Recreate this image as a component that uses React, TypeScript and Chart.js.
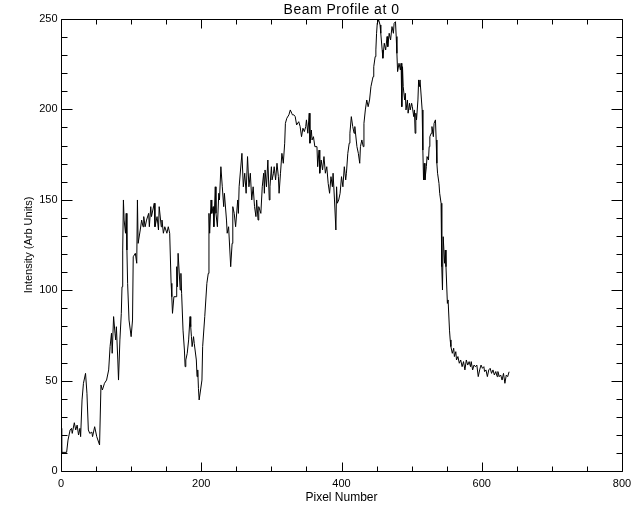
import { useEffect, useRef } from "react";
import { Chart, registerables } from "chart.js";

Chart.register(...registerables);

const pixelNumber = [
  0, 1, 8, 10, 13, 15, 16, 19, 21, 23, 25, 27, 28, 30, 32, 35, 37, 39, 41, 44, 45, 48, 51, 55, 57, 59, 62, 65, 68, 70,
  72, 73, 75, 77, 78, 79, 81, 82, 84, 86, 87, 88, 89, 90, 92, 93, 94, 95, 97, 100, 102, 103, 106, 108, 109, 110, 113, 115, 117, 118,
  120, 122, 125, 126, 128, 129, 133, 134, 137, 139, 140, 143, 144, 146, 148, 151, 153, 155, 157, 158, 159, 161, 164, 165, 166, 167, 170, 171, 172, 174,
  176, 177, 178, 180, 182, 184, 185, 186, 187, 189, 190, 193, 194, 195, 196, 197, 199, 201, 202, 205, 208, 210, 211, 212, 214, 215, 217, 218, 220, 221,
  223, 225, 226, 228, 230, 232, 233, 236, 237, 239, 242, 244, 245, 247, 249, 252, 253, 254,
  258, 260, 262, 264, 266, 268, 270, 272, 274, 276, 278, 279, 281, 282, 285, 287, 289, 290, 291, 293, 295, 297, 298, 300, 301, 303, 304, 306, 308, 310,
  311, 313, 315, 317, 319, 320, 322, 325, 327, 329, 330, 332, 334, 336, 339, 341, 343, 345, 347, 349, 350, 352, 354, 355, 357, 358, 360, 362, 365, 366,
  368, 369, 371, 373, 375, 377, 379, 381, 383, 385, 387, 388, 390, 392, 393, 394, 396, 398, 400, 402, 404, 406, 407, 409, 411, 412, 414, 416, 418, 419,
  422, 424, 426, 427, 429, 431, 432, 434, 436, 438, 440, 442, 444, 445, 446, 448, 449, 450, 451, 453, 455, 456, 458, 459, 461, 463, 465, 466, 468, 470,
  472, 474, 475, 477, 478, 479, 480, 482, 484,
  485, 486, 487, 488, 490, 491, 492, 494, 495, 497, 498, 500, 501, 503, 504, 505, 506, 507, 509, 510, 511, 512, 514, 515, 516, 517, 518, 519, 521, 522,
  524, 525, 526, 528, 529, 531, 532, 534, 535, 536, 537, 539, 540, 542, 543, 544, 545, 547, 548, 549, 551, 552, 554, 555, 556, 558, 560, 561, 563, 564,
  566, 568, 570, 572, 574, 576, 578, 580, 582, 584, 585, 587, 589, 591, 593, 595, 597, 599, 601, 603, 604, 606, 608, 610, 612, 614, 616, 618, 620, 622,
  623, 625, 627, 629, 631, 633, 635, 637, 639,
];

const intensity = [
  23.6, 10.3, 10.3, 17.1, 22.7, 23.6, 20.8, 26.7, 22.7, 25.4, 19.9, 23.6, 19.0, 39.3, 48.5, 54.0, 43.0, 22.7, 20.8, 21.5, 19.0, 24.5, 19.0, 14.4, 47.6, 44.8, 48.5, 50.3, 55.9, 68.8,
  76.2, 65.1, 85.4, 76.2, 72.5, 79.8, 61.4, 50.3, 72.5, 87.2, 101.9, 122.2, 149.9, 138.8, 131.5, 142.5, 122.2, 103.8, 83.5, 74.3, 83.5, 118.5, 120.4, 114.9, 149.9, 125.9, 133.3, 138.8, 135.1, 140.7,
  135.1, 138.8, 142.5, 135.1, 146.2, 140.7, 148.1, 135.1, 140.7, 133.3, 146.2, 135.1, 138.8, 131.5, 135.1, 131.5, 135.1, 131.5, 103.8, 96.4, 87.2, 96.4, 96.4, 113.0, 101.9, 120.4, 100.1, 109.3, 98.3, 77.9,
  66.9, 57.7, 61.4, 65.1, 72.5, 85.4, 79.8, 74.3, 68.8, 74.3, 70.6, 61.4, 52.2, 55.9, 45.7, 39.3, 44.8, 50.3, 68.8, 85.4, 103.8, 109.3, 142.5, 131.5, 149.9, 142.5, 146.2, 135.1, 157.2, 142.5,
  135.1, 153.6, 149.9, 168.3, 157.2, 146.2, 153.6, 138.8, 131.5, 135.1, 113.0, 125.9, 146.2, 142.5, 135.1, 149.9, 142.5, 157.2,
  175.7, 157.2, 164.7, 153.6, 173.9, 157.2, 164.7, 149.9, 157.2, 146.2, 140.7, 149.9, 138.8, 146.2, 142.5, 157.2, 164.7, 153.6, 166.5, 157.2, 172.0, 149.9, 157.2, 168.3, 161.0, 164.7, 168.3, 161.0, 170.2, 162.8,
  153.6, 164.7, 175.7, 170.2, 181.3, 192.3, 195.1, 197.0, 199.7, 197.9, 197.0, 197.0, 196.0, 191.4, 193.2, 190.5, 184.9, 189.6, 187.7, 190.5, 194.2, 186.8, 197.9, 181.3, 188.6, 183.1, 184.9, 179.4, 179.4, 168.3,
  177.5, 164.7, 172.0, 166.5, 173.9, 164.7, 168.3, 159.1, 153.6, 162.8, 157.2, 164.7, 149.9, 133.3, 157.2, 148.1, 149.9, 153.6, 162.8, 157.2, 168.3, 161.0, 164.7, 175.7, 181.3, 186.8, 196.0, 190.5, 186.8, 190.5,
  179.4, 175.7, 170.2, 179.4, 183.1, 179.4, 192.3, 199.7, 205.2, 201.5, 205.2, 212.6, 216.3, 218.1, 223.6, 229.2, 232.9, 242.1, 247.6, 249.5, 246.7, 242.1, 232.9, 228.3, 236.6, 232.9, 240.3, 234.7, 242.1, 238.4,
  245.8, 242.1, 247.6, 248.5, 240.3, 231.0, 220.9, 225.5, 221.8,
  225.5, 201.5, 223.6, 212.6, 205.2, 208.9, 199.7, 205.2, 197.9, 203.4, 199.7, 203.4, 201.5, 196.0, 199.7, 186.8, 197.9, 194.2, 205.2, 216.3, 212.6, 216.3, 205.2, 199.7, 177.5, 161.0, 170.2, 161.0, 168.3, 173.9,
  172.0, 179.4, 184.9, 186.8, 190.5, 184.9, 192.3, 194.2, 183.1, 170.2, 164.7, 159.1, 153.6, 148.1, 113.0, 100.1, 129.6, 114.9, 122.2, 113.0, 92.7, 94.6, 77.9, 72.5, 68.8, 65.1, 67.9, 63.3, 66.0, 61.4,
  63.3, 59.6, 61.4, 57.7, 60.5, 55.9, 61.4, 58.6, 60.5, 57.7, 60.5, 55.9, 58.6, 57.7, 58.6, 52.2, 55.9, 58.6, 56.8, 57.7, 55.0, 55.9, 52.2, 55.9, 56.8, 54.0, 55.9, 53.1, 55.0, 52.2,
  55.0, 52.2, 53.1, 50.3, 54.0, 48.5, 53.1, 52.2, 54.9,
];

const xMajorTicks = [0, 200, 400, 600, 800];
const xTickLabels = ["0", "200", "400", "600", "800"];
const yMajorTicks = [0, 50, 100, 150, 200, 250];
const yTickLabels = ["0", "50", "100", "150", "200", "250"];
const xMinorStep = 50;
const yMinorStep = 10;
const chartTitle = "Beam Profile at 0";
const xAxisTitle = "Pixel Number";
const yAxisTitle = "Intensity (Arb Units)";

const FONT = '"Liberation Sans", Arial, sans-serif';

const idlAxesPlugin = {
  id: "idlAxes",
  afterDatasetsDraw(chart: any) {
    const { ctx, chartArea: a, scales } = chart;
    const xs = scales.x;
    const ys = scales.y;
    const L = Math.round(a.left) + 0.5;
    const R = Math.round(a.right) + 0.5;
    const T = Math.round(a.top) + 0.5;
    const B = Math.round(a.bottom) + 0.5;
    ctx.save();
    ctx.strokeStyle = "#000";
    ctx.lineWidth = 1;
    ctx.beginPath();
    ctx.rect(L, T, R - L, B - T);
    // x ticks
    const xMin = xs.min, xMax = xs.max;
    for (let v = xMin; v <= xMax + 1e-9; v += xMinorStep) {
      const px = Math.round(xs.getPixelForValue(v)) + 0.5;
      const major = xMajorTicks.includes(v);
      const len = major ? 9 : 5;
      ctx.moveTo(px, B);
      ctx.lineTo(px, B - len);
      ctx.moveTo(px, T);
      ctx.lineTo(px, T + len);
    }
    const yMin = ys.min, yMax = ys.max;
    for (let v = yMin; v <= yMax + 1e-9; v += yMinorStep) {
      const py = Math.round(ys.getPixelForValue(v)) + 0.5;
      const major = yMajorTicks.includes(v);
      const len = major ? 11 : 6;
      ctx.moveTo(L, py);
      ctx.lineTo(L + len, py);
      ctx.moveTo(R, py);
      ctx.lineTo(R - len, py);
    }
    ctx.stroke();

    ctx.fillStyle = "#000";
    ctx.font = `11px ${FONT}`;
    ctx.textAlign = "right";
    ctx.textBaseline = "middle";
    yMajorTicks.forEach((v, i) => {
      ctx.fillText(yTickLabels[i], L - 4, ys.getPixelForValue(v));
    });
    ctx.textAlign = "center";
    xMajorTicks.forEach((v, i) => {
      ctx.fillText(xTickLabels[i], xs.getPixelForValue(v), 484);
    });

    const cx = (a.left + a.right) / 2;
    ctx.font = `12px ${FONT}`;
    ctx.fillText(xAxisTitle, cx, 498);

    ctx.save();
    ctx.translate(29, (a.top + a.bottom) / 2);
    ctx.rotate(-Math.PI / 2);
    ctx.font = `11px ${FONT}`;
    ctx.fillText(yAxisTitle, 0, 0);
    ctx.restore();

    ctx.font = `14px ${FONT}`;
    (ctx as any).letterSpacing = "0.5px";
    ctx.fillText(chartTitle, cx, 10);
    ctx.restore();
  },
};

export default function App() {
  const ref = useRef<HTMLCanvasElement | null>(null);
  useEffect(() => {
    if (!ref.current) return;
    const points = pixelNumber.map((x, i) => ({ x, y: intensity[i] }));
    const chart = new Chart(ref.current, {
      type: "line",
      data: {
        datasets: [
          {
            data: points,
            borderColor: "#000",
            borderWidth: 1,
            pointRadius: 0,
            tension: 0,
            fill: false,
          },
        ],
      },
      options: {
        animation: false,
        responsive: false,
        devicePixelRatio: 1,
        layout: { padding: { left: 61, right: 18, top: 19, bottom: 41 } },
        plugins: { legend: { display: false }, tooltip: { enabled: false }, title: { display: false } },
        scales: {
          x: { type: "linear", min: 0, max: 800, display: false },
          y: { type: "linear", min: 0, max: 250, display: false },
        },
      },
      plugins: [idlAxesPlugin],
    });
    return () => chart.destroy();
  }, []);
  return (
    <div style={{ position: "absolute", left: 0, top: 0, width: 640, height: 512, background: "#fff" }}>
      <canvas ref={ref} width={640} height={512} />
    </div>
  );
}
